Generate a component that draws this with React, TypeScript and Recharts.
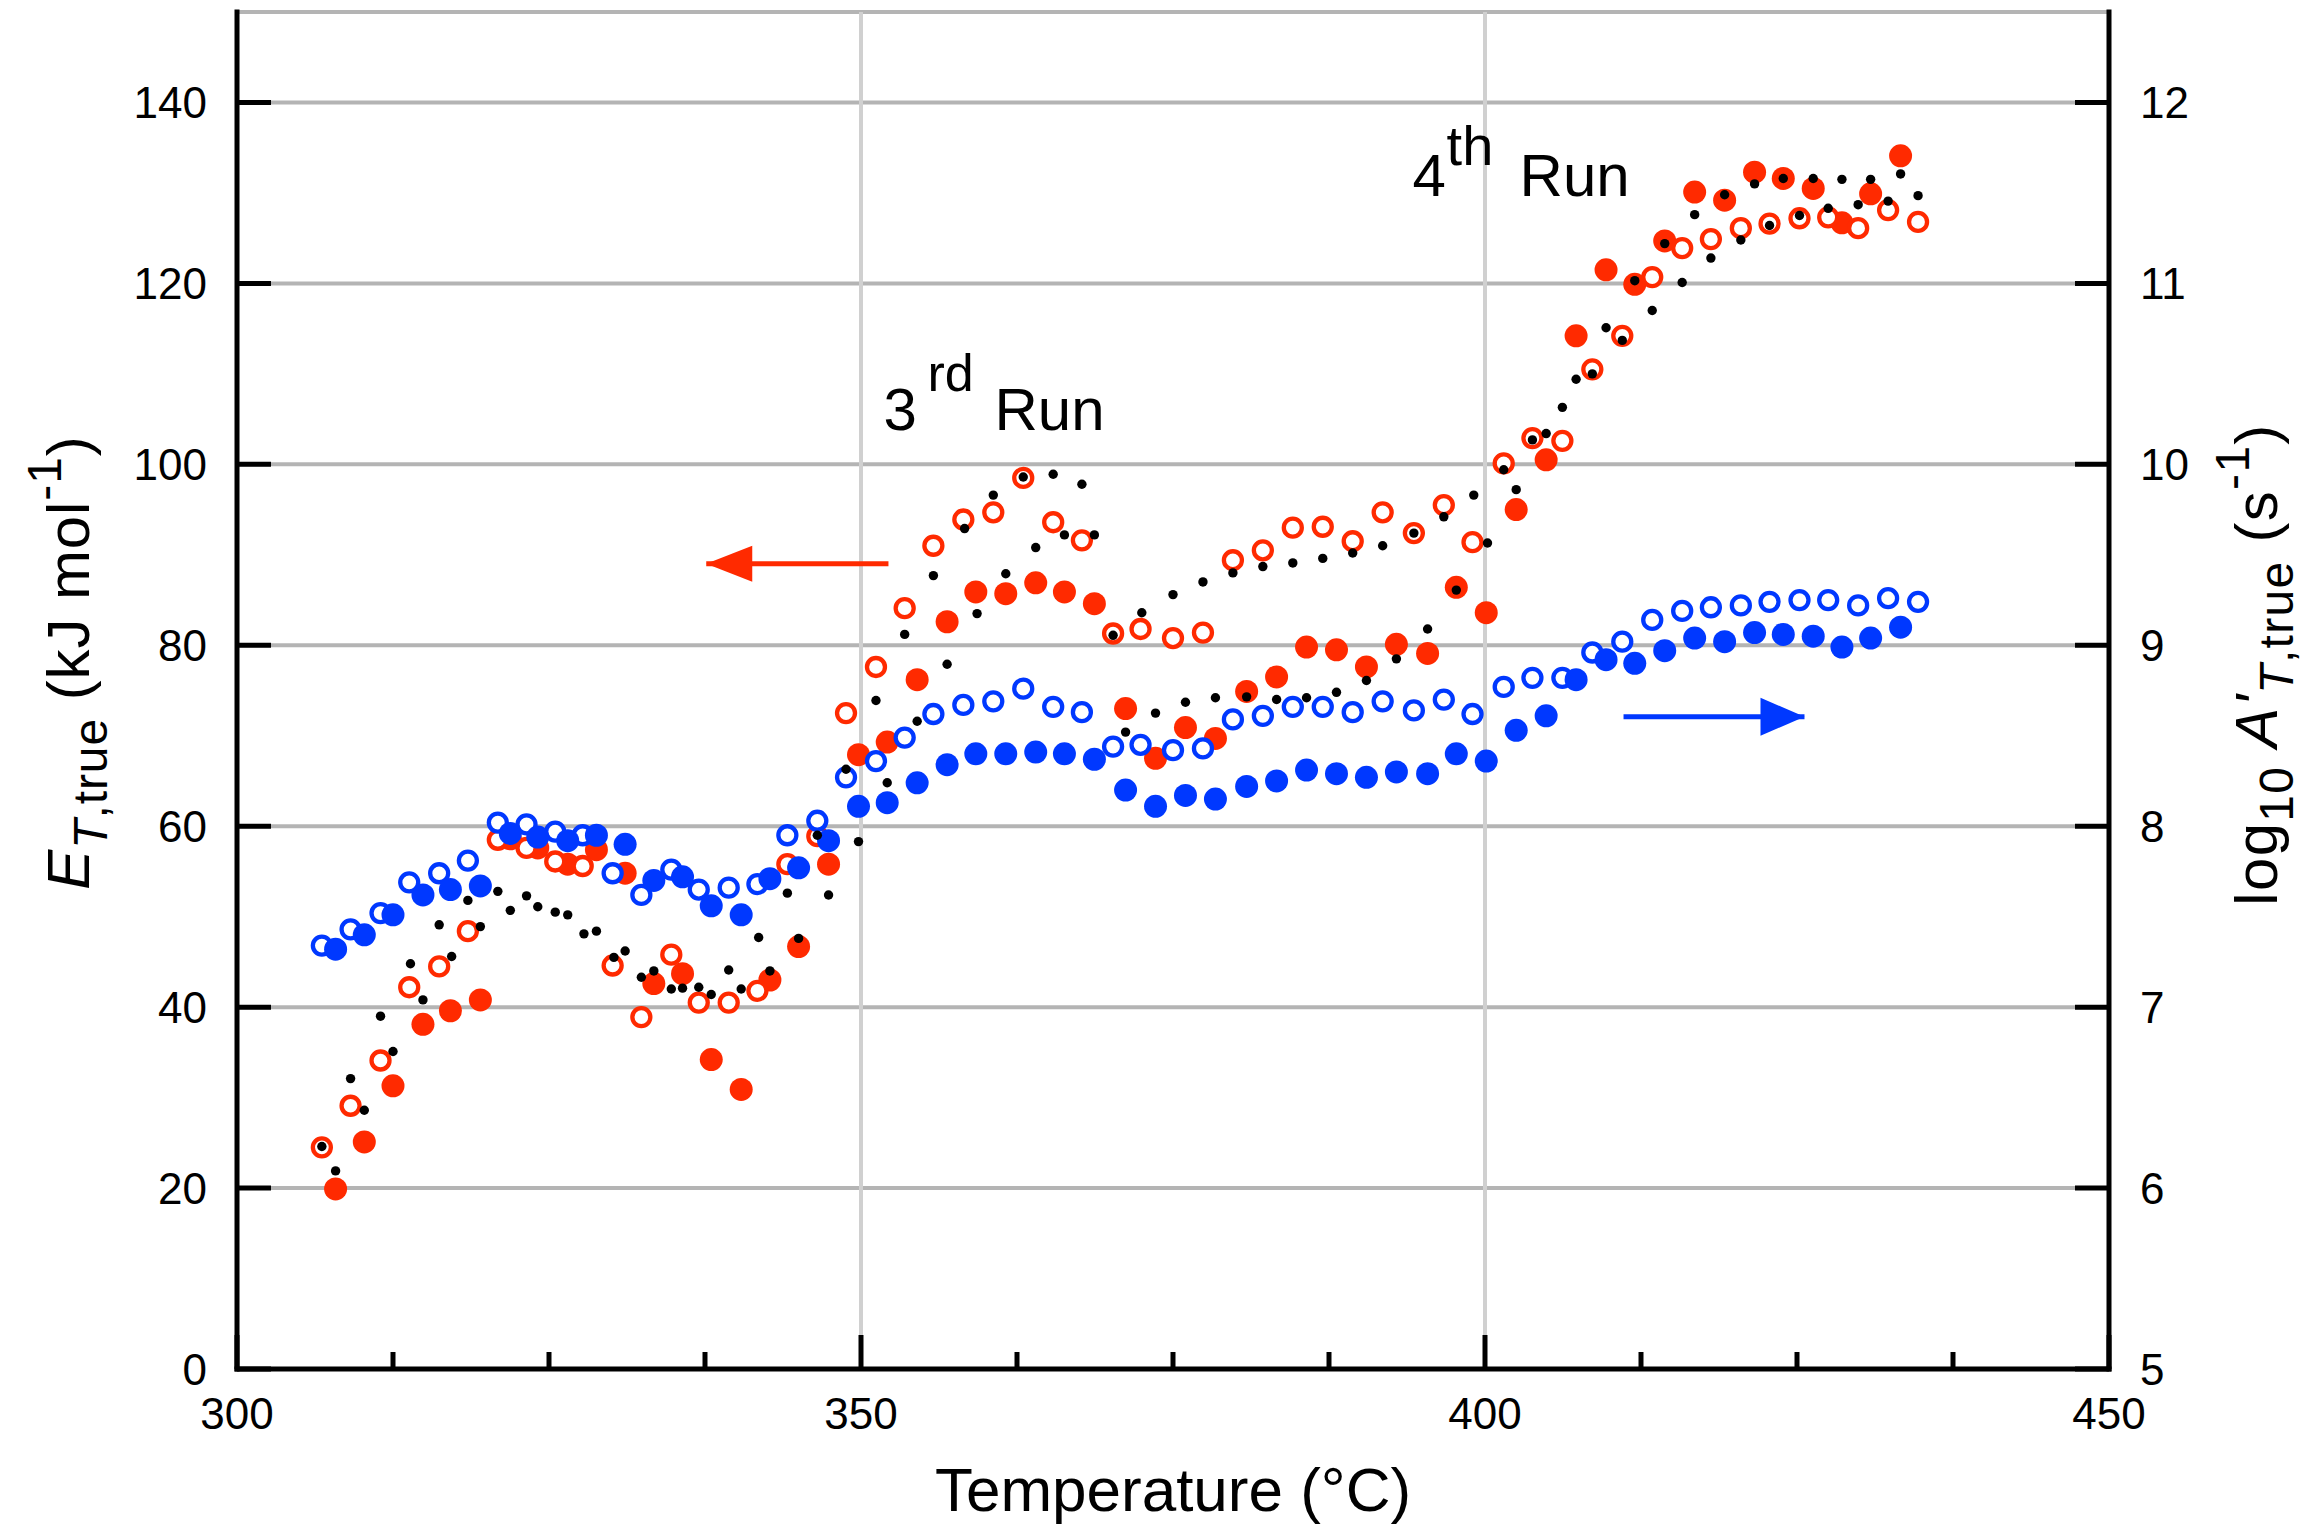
import React from 'react';
import { ScatterChart, Scatter, XAxis, YAxis, CartesianGrid, ReferenceLine } from 'recharts';

const RED = '#ff2a00';
const BLUE = '#0038ff';
const FONT = '"Liberation Sans", Arial, Helvetica, sans-serif';

// axis ticks
const xTicks = [300, 312.5, 325, 337.5, 350, 362.5, 375, 387.5, 400, 412.5, 425, 437.5, 450];
const eTicks = [0, 20, 40, 60, 80, 100, 120, 140];
const aTicks = [5, 6, 7, 8, 9, 10, 11, 12];
const xMajor = [300, 350, 400, 450];

// temperatures of the open-circle points (°C)
const openT = [
  306.8, 309.1, 311.5, 313.8, 316.2, 318.5, 320.9, 323.2, 325.5, 327.7,
  330.1, 332.4, 334.8, 337.0, 339.4, 341.7, 344.1, 346.5, 348.8, 351.2,
  353.5, 355.8, 358.2, 360.6, 363.0, 365.4, 367.7, 370.2, 372.4, 375.0,
  377.4, 379.8, 382.2, 384.6, 387.0, 389.4, 391.8, 394.3, 396.7, 399.0,
  401.5, 403.8, 406.2, 408.6, 411.0, 413.4, 415.8, 418.1, 420.5, 422.8,
  425.2, 427.5, 429.9, 432.3, 434.7,
];
// E_T,true, open red circles (kJ/mol)
const redOpenE = [
  24.5, 29.1, 34.1, 42.2, 44.5, 48.4, 58.5, 57.6, 56.1, 55.6,
  44.6, 38.9, 45.8, 40.5, 40.5, 41.8, 55.8, 58.9, 72.5, 77.6,
  84.1, 91.0, 93.9, 94.7, 98.5, 93.6, 91.6, 81.3, 81.8, 80.8,
  81.4, 89.4, 90.5, 93.0, 93.1, 91.5, 94.7, 92.4, 95.5, 91.4,
  100.1, 102.9, 102.6, 110.5, 114.2, 120.7, 123.9, 124.9, 126.1, 126.6,
  127.2, 127.3, 126.1, 128.1, 126.8,
];
// log10 A', open blue circles
const blueOpenA = [
  7.34, 7.43, 7.52, 7.69, 7.74, 7.81, 8.02, 8.01, 7.97, 7.95,
  7.74, 7.62, 7.76, 7.65, 7.66, 7.68, 7.95, 8.03, 8.27, 8.36,
  8.49, 8.62, 8.67, 8.69, 8.76, 8.66, 8.63, 8.44, 8.45, 8.42,
  8.43, 8.59, 8.61, 8.66, 8.66, 8.63, 8.69, 8.64, 8.70, 8.62,
  8.77, 8.82, 8.82, 8.96, 9.02, 9.14, 9.19, 9.21, 9.22, 9.24,
  9.25, 9.25, 9.22, 9.26, 9.24,
];

// temperatures of the filled points (°C)
const filledT = [
  307.9, 310.2, 312.5, 314.9, 317.1, 319.5, 321.9, 324.1, 326.5, 328.8,
  331.1, 333.4, 335.7, 338.0, 340.4, 342.7, 345.0, 347.4, 349.8, 352.1,
  354.5, 356.9, 359.2, 361.6, 364.0, 366.3, 368.7, 371.2, 373.6, 376.0,
  378.4, 380.9, 383.3, 385.7, 388.1, 390.5, 392.9, 395.4, 397.7, 400.1,
  402.5, 404.9, 407.3, 409.7, 412.0, 414.4, 416.8, 419.2, 421.6, 423.9,
  426.3, 428.6, 430.9, 433.3,
];
const redFilledE = [
  19.9, 25.1, 31.3, 38.1, 39.6, 40.8, 58.6, 57.6, 55.8, 57.4,
  54.8, 42.6, 43.7, 34.2, 30.9, 43.0, 46.7, 55.8, 67.9, 69.3,
  76.2, 82.6, 85.9, 85.7, 86.9, 85.9, 84.6, 73.0, 67.5, 70.9,
  69.7, 74.9, 76.5, 79.8, 79.5, 77.6, 80.1, 79.1, 86.4, 83.6,
  95.0, 100.5, 114.2, 121.5, 119.9, 124.7, 130.1, 129.2, 132.3, 131.6,
  130.5, 126.7, 129.9, 134.1,
];
const blueFilledA = [
  7.32, 7.40, 7.51, 7.62, 7.65, 7.67, 7.96, 7.94, 7.92, 7.95,
  7.90, 7.70, 7.72, 7.56, 7.51, 7.71, 7.77, 7.92, 8.11, 8.13,
  8.24, 8.34, 8.40, 8.40, 8.41, 8.40, 8.37, 8.20, 8.11, 8.17,
  8.15, 8.22, 8.25, 8.31, 8.29, 8.27, 8.30, 8.29, 8.40, 8.36,
  8.53, 8.61, 8.81, 8.92, 8.90, 8.97, 9.04, 9.02, 9.07, 9.06,
  9.05, 8.99, 9.04, 9.10,
];

// small black dots (kJ/mol)
const blackT = [
  306.8, 307.9, 309.1, 310.2, 311.5, 312.5, 313.9, 314.9, 316.2, 317.2,
  318.5, 319.5, 320.9, 321.9, 323.2, 324.1, 325.5, 326.5, 327.8, 328.8,
  330.2, 331.1, 332.4, 333.4, 334.8, 335.7, 337.0, 338.0, 339.4, 340.4,
  341.8, 342.7, 344.1, 345.0, 346.5, 347.4, 348.8, 349.8, 351.2, 352.1,
  353.5, 354.5, 355.8, 356.9, 358.3, 359.3, 360.6, 361.6, 363.0, 364.0,
  365.4, 366.3, 367.7, 368.7, 370.2, 371.2, 372.5, 373.6, 375.0, 376.0,
  377.4, 378.4, 379.8, 380.9, 382.2, 383.3, 384.6, 385.7, 387.0, 388.1,
  389.4, 390.5, 391.8, 392.9, 394.3, 395.4, 396.7, 397.7, 399.1, 400.2,
  401.5, 402.5, 403.8, 404.9, 406.2, 407.3, 408.6, 409.7, 411.0, 412.0,
  413.4, 414.4, 415.8, 416.8, 418.1, 419.2, 420.5, 421.6, 422.8, 423.9,
  425.2, 426.3, 427.5, 428.6, 429.9, 430.9, 432.3, 433.3, 434.7,
];
const blackE = [
  24.6, 21.9, 32.1, 28.6, 39.0, 35.1, 44.8, 40.8, 49.1, 45.6,
  51.8, 48.9, 52.8, 50.7, 52.3, 51.1, 50.5, 50.2, 48.1, 48.4,
  45.5, 46.2, 43.3, 44.0, 42.0, 42.1, 42.2, 41.4, 44.1, 42.0,
  47.7, 44.0, 52.6, 47.6, 59.0, 52.4, 66.3, 58.3, 73.9, 64.8,
  81.2, 71.6, 87.7, 77.9, 92.9, 83.5, 96.6, 87.9, 98.6, 90.8,
  98.9, 92.2, 97.8, 92.2, 81.1, 70.4, 83.6, 72.5, 85.6, 73.7,
  87.0, 74.2, 88.0, 74.3, 88.7, 74.0, 89.1, 74.2, 89.6, 74.8,
  90.2, 76.1, 91.0, 78.5, 92.4, 81.8, 94.2, 86.1, 96.6, 91.3,
  99.4, 97.2, 102.7, 103.4, 106.3, 109.4, 110.0, 115.1, 113.7, 120.3,
  117.0, 124.4, 120.1, 127.6, 122.8, 129.8, 124.8, 131.0, 126.4, 131.6,
  127.5, 131.6, 128.3, 131.5, 128.7, 131.5, 129.1, 132.1, 129.7,
];

// arrows (tail first, head last) and run labels
const redArrowT = [352.2, 337.6];
const redArrowE = [89.0, 89.0];
const blueArrowT = [411.1, 425.6];
const blueArrowA = [8.605, 8.605];
const run3 = [{ x: 351.8, y: 103.8 }];
const run4 = [{ x: 394.2, y: 129.7 }];

const toPoints = (xs: number[], ys: number[]) => xs.map((x, i) => ({ x, y: ys[i] }));
const toArrow = (xs: number[], ys: number[]) =>
  xs.map((x, i) => ({ x, y: ys[i], head: i === xs.length - 1 }));

const filledDot = (color: string) => (p: any) => <circle cx={p.cx} cy={p.cy} r={11.5} fill={color} />;
const openDot = (color: string) => (p: any) => (
  <circle cx={p.cx} cy={p.cy} r={9} fill="#fff" stroke={color} strokeWidth={4.3} />
);
const blackDot = (p: any) => <circle cx={p.cx} cy={p.cy} r={4.7} fill="#000" />;

const leftHead = (p: any) =>
  p.payload.head ? (
    <polygon points={`${p.cx},${p.cy} ${p.cx + 46},${p.cy - 18} ${p.cx + 46},${p.cy + 18}`} fill={RED} />
  ) : (
    <g />
  );
const rightHead = (p: any) =>
  p.payload.head ? (
    <polygon points={`${p.cx},${p.cy} ${p.cx - 44},${p.cy - 19} ${p.cx - 44},${p.cy + 19}`} fill={BLUE} />
  ) : (
    <g />
  );

const run3Label = (p: any) => (
  <text x={p.cx} y={p.cy} fontSize={60} fontFamily={FONT} fill="#000">
    3
    <tspan x={p.cx + 44} dy={-39} fontSize={52}>rd</tspan>
    <tspan x={p.cx + 111} dy={39}>Run</tspan>
  </text>
);
const run4Label = (p: any) => (
  <text x={p.cx} y={p.cy} fontSize={60} fontFamily={FONT} fill="#000">
    4
    <tspan x={p.cx + 34} dy={-31} fontSize={56}>th</tspan>
    <tspan x={p.cx + 107} dy={31}>Run</tspan>
  </text>
);

const tickText = { fontSize: 44, fontFamily: FONT, fill: '#000' };

const BottomTick = (props: any) => {
  const { x, y, payload } = props;
  const major = xMajor.includes(payload.value);
  return (
    <g>
      <line x1={x} x2={x} y1={y} y2={y - (major ? 34 : 17)} stroke="#000" strokeWidth={5} />
      {major && (
        <text x={x} y={y + 60} textAnchor="middle" {...tickText}>
          {payload.value}
        </text>
      )}
    </g>
  );
};

const TopTick = (props: any) => {
  const { x, y, payload } = props;
  const major = xMajor.includes(payload.value);
  return <line x1={x} x2={x} y1={y} y2={y + (major ? 34 : 17)} stroke="#000" strokeWidth={5} />;
};

const LeftTick = (props: any) => {
  const { x, y, payload } = props;
  return (
    <g>
      <line x1={x} x2={x + 34} y1={y} y2={y} stroke="#000" strokeWidth={5} />
      <text x={x - 30} y={y} dy="0.36em" textAnchor="end" {...tickText}>
        {payload.value}
      </text>
    </g>
  );
};

const RightTick = (props: any) => {
  const { x, y, payload } = props;
  return (
    <g>
      <line x1={x} x2={x - 34} y1={y} y2={y} stroke="#000" strokeWidth={5} />
      <text x={x + 31} y={y} dy="0.36em" textAnchor="start" {...tickText}>
        {payload.value}
      </text>
    </g>
  );
};

const LeftTitle = (props: any) => {
  const vb = props.viewBox;
  const x = vb.x + 89;
  const y = vb.y + vb.height / 2 - 28;
  return (
    <text x={x} y={y} transform={`rotate(-90 ${x} ${y})`} textAnchor="middle" fontSize={60}
      fontFamily={FONT} fill="#000" letterSpacing={0.9}>
      <tspan fontStyle="italic">E</tspan>
      <tspan fontSize={48} dy={18}><tspan fontStyle="italic">T</tspan>,true</tspan>
      <tspan dy={-18}>{' (kJ mol'}</tspan>
      <tspan fontSize={48} dy={-28}>-1</tspan>
      <tspan dy={28}>)</tspan>
    </text>
  );
};

const RightTitle = (props: any) => {
  const vb = props.viewBox;
  const x = vb.x + 168;
  const y = vb.y + vb.height / 2 - 26;
  return (
    <text x={x} y={y} transform={`rotate(-90 ${x} ${y})`} textAnchor="middle" fontSize={60}
      fontFamily={FONT} fill="#000" letterSpacing={1.3}>
      log
      <tspan fontSize={48} dy={16}>10</tspan>
      <tspan dy={-16}>{' '}</tspan>
      <tspan fontStyle="italic">A'</tspan>
      <tspan fontSize={48} dy={16}><tspan fontStyle="italic">T</tspan>,true</tspan>
      <tspan dy={-16}>{' (s'}</tspan>
      <tspan fontSize={48} dy={-28}>-1</tspan>
      <tspan dy={28}>)</tspan>
    </text>
  );
};

const axisLine = { stroke: '#000', strokeWidth: 5, strokeLinecap: 'square' as const };

export default function App() {
  return (
    <div style={{ position: 'absolute', left: 0, top: 0, width: 2321, height: 1534, background: '#fff' }}>
      <ScatterChart width={2321} height={1534} margin={{ top: 12, right: 0, bottom: 0, left: 0 }}>
        <CartesianGrid xAxisId="b" yAxisId="l" vertical={false} stroke="#b4b4b4" strokeWidth={4} />
        <XAxis xAxisId="b" type="number" dataKey="x" domain={[300, 450]} ticks={xTicks} interval={0}
          allowDataOverflow height={165} axisLine={axisLine} tickLine={false} tickSize={0} tickMargin={0}
          tick={<BottomTick />}
          label={{ value: 'Temperature (°C)', position: 'insideBottom', offset: 23, fontSize: 62, fontFamily: FONT, fill: '#000' }} />
        <XAxis xAxisId="t" orientation="top" type="number" dataKey="x" domain={[300, 450]} ticks={xTicks}
          interval={0} allowDataOverflow height={0} axisLine={axisLine} tickLine={false} tickSize={0}
          tickMargin={0} tick={<TopTick />} />
        <YAxis yAxisId="l" type="number" dataKey="y" domain={[0, 150]} ticks={eTicks} interval={0}
          allowDataOverflow width={237} axisLine={axisLine} tickLine={false} tickSize={0} tickMargin={0}
          tick={<LeftTick />} label={LeftTitle} />
        <YAxis yAxisId="r" orientation="right" type="number" dataKey="y" domain={[5, 12.5]} ticks={aTicks}
          interval={0} allowDataOverflow width={212} axisLine={axisLine} tickLine={false} tickSize={0}
          tickMargin={0} tick={<RightTick />} label={RightTitle} />
        <ReferenceLine xAxisId="b" yAxisId="l" x={350} stroke="#d0d0d0" strokeWidth={4} />
        <ReferenceLine xAxisId="b" yAxisId="l" x={400} stroke="#d0d0d0" strokeWidth={4} />

        <Scatter xAxisId="b" yAxisId="l" data={toPoints(filledT, redFilledE)} shape={filledDot(RED)} isAnimationActive={false} />
        <Scatter xAxisId="b" yAxisId="l" data={toPoints(openT, redOpenE)} shape={openDot(RED)} isAnimationActive={false} />
        <Scatter xAxisId="b" yAxisId="r" data={toPoints(openT, blueOpenA)} shape={openDot(BLUE)} isAnimationActive={false} />
        <Scatter xAxisId="b" yAxisId="r" data={toPoints(filledT, blueFilledA)} shape={filledDot(BLUE)} isAnimationActive={false} />
        <Scatter xAxisId="b" yAxisId="l" data={toPoints(blackT, blackE)} shape={blackDot} isAnimationActive={false} />

        <Scatter xAxisId="b" yAxisId="l" data={toArrow(redArrowT, redArrowE)} fill={RED} line={{ stroke: RED, strokeWidth: 5 }}
          lineType="joint" shape={leftHead} isAnimationActive={false} />
        <Scatter xAxisId="b" yAxisId="r" data={toArrow(blueArrowT, blueArrowA)} fill={BLUE} line={{ stroke: BLUE, strokeWidth: 5 }}
          lineType="joint" shape={rightHead} isAnimationActive={false} />
        <Scatter xAxisId="b" yAxisId="l" data={run3} shape={run3Label} isAnimationActive={false} />
        <Scatter xAxisId="b" yAxisId="l" data={run4} shape={run4Label} isAnimationActive={false} />
      </ScatterChart>
    </div>
  );
}
